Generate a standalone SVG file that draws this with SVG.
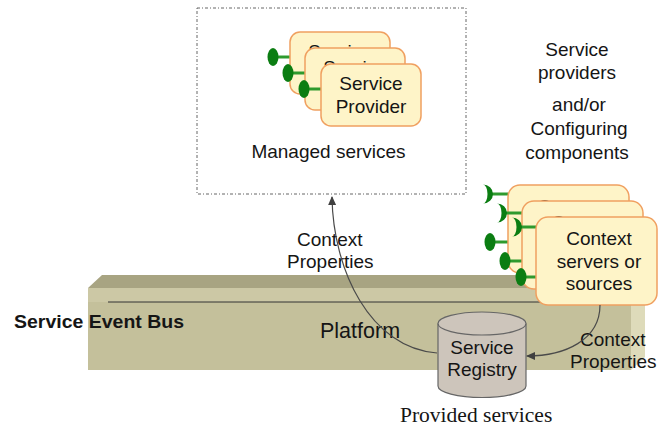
<svg xmlns="http://www.w3.org/2000/svg" width="658" height="430" viewBox="0 0 658 430">
<style>
.t{font-family:"Liberation Sans",Arial,sans-serif;font-size:19px;fill:#151515}
.tc{text-anchor:middle}
.card{fill:#fef4c8;stroke:#f0a060;stroke-width:1.5}
.stem{stroke:#2e9a2e;stroke-width:3}
.lolly{fill:#0b7d12}
.conn{fill:none;stroke:#4a4a4a;stroke-width:1.2}
</style>
<defs>
<marker id="ah" markerWidth="9" markerHeight="8" refX="8" refY="4" orient="auto" markerUnits="userSpaceOnUse">
<path d="M0,0 L9,4 L0,8 z" fill="#404040"/>
</marker>
</defs>
<rect width="658" height="430" fill="#fff"/>

<g id="platform">
<polygon points="88,288 102,275 645,275 631,288" fill="#a8a482"/>
<rect x="88" y="288" width="543" height="14" fill="#ccc8a5"/>
<rect x="88" y="302" width="543" height="68" fill="#c4c09b"/>
<polygon points="631,288 645,275 645,357 631,370" fill="#dedbba"/>
<line x1="108" y1="302" x2="631" y2="302" stroke="#333" stroke-width="1"/>
<text class="t" x="320" y="338" style="font-size:21.5px">Platform</text>
<text class="t" x="14" y="328" style="font-weight:bold;font-size:18px" textLength="170" lengthAdjust="spacingAndGlyphs">Service Event Bus</text>
</g>

<g id="service-registry">
<path d="M438,323.5 L438,386 A44,11.5 0 0 0 526,386 L526,323.5" fill="#cdc5bb" stroke="#666" stroke-width="1.2"/>
<ellipse cx="482" cy="323.5" rx="44" ry="11.5" fill="#cdc5bb" stroke="#666" stroke-width="1.2"/>
<text class="t tc" x="482" y="354">Service</text>
<text class="t tc" x="482" y="376">Registry</text>
</g>

<g id="managed-services">
<rect x="197" y="8" width="269" height="186" fill="none" stroke="#666" stroke-width="1" stroke-dasharray="3,2,1,2"/>
<text class="t tc" x="328.5" y="158">Managed services</text>
</g>

<g id="service-provider-1">
<line class="stem" x1="276" y1="57" x2="290" y2="57"/>
<ellipse class="lolly" cx="273" cy="57" rx="5.5" ry="9"/>
<rect class="card" x="290" y="32" width="100" height="62" rx="10"/>
<text class="t tc" x="340" y="58">Service</text>
</g>
<g id="service-provider-2">
<line class="stem" x1="291" y1="73" x2="305" y2="73"/>
<ellipse class="lolly" cx="288" cy="73" rx="5.5" ry="9"/>
<rect class="card" x="305" y="48" width="100" height="62" rx="10"/>
<text class="t tc" x="355" y="74">Service</text>
</g>
<g id="service-provider-3">
<line class="stem" x1="307" y1="89" x2="321" y2="89"/>
<ellipse class="lolly" cx="304" cy="89" rx="5.5" ry="9"/>
<rect class="card" x="321" y="64" width="100" height="62" rx="10"/>
<text class="t tc" x="371" y="90">Service</text>
<text class="t tc" x="371" y="113">Provider</text>
</g>

<g id="providers-label">
<text class="t tc" x="577" y="56">Service</text>
<text class="t tc" x="577" y="79">providers</text>
<text class="t tc" x="579" y="111">and/or</text>
<text class="t tc" x="579" y="135">Configuring</text>
<text class="t tc" x="577" y="159">components</text>
</g>

<g id="context-server-1">
<line class="stem" x1="492" y1="194" x2="508" y2="194"/>
<path class="lolly" d="M483,184.5 A10,9.5 0 0 1 483,203.5 A4.5,9.5 0 0 0 483,184.5 Z"/>
<line class="stem" x1="494" y1="242" x2="508" y2="242"/>
<ellipse class="lolly" cx="490" cy="242" rx="5.5" ry="9"/>
<rect class="card" x="508" y="185" width="121" height="88" rx="12"/>
<text class="t tc" x="570" y="213">Context</text>
</g>
<g id="context-server-2">
<line class="stem" x1="506" y1="213" x2="522" y2="213"/>
<path class="lolly" d="M497,203.5 A10,9.5 0 0 1 497,222.5 A4.5,9.5 0 0 0 497,203.5 Z"/>
<line class="stem" x1="509" y1="261" x2="522" y2="261"/>
<ellipse class="lolly" cx="505" cy="261" rx="5.5" ry="9"/>
<rect class="card" x="522" y="201" width="121" height="88" rx="12"/>
<text class="t tc" x="584" y="229">Context</text>
</g>
<g id="context-server-3">
<line class="stem" x1="521" y1="227" x2="536" y2="227"/>
<path class="lolly" d="M512,217.5 A10,9.5 0 0 1 512,236.5 A4.5,9.5 0 0 0 512,217.5 Z"/>
<line class="stem" x1="525" y1="277" x2="536" y2="277"/>
<ellipse class="lolly" cx="521" cy="277" rx="5.5" ry="9"/>
<rect class="card" x="536" y="217" width="121" height="88" rx="12"/>
<text class="t tc" x="599" y="245">Context</text>
<text class="t tc" x="599" y="268">servers or</text>
<text class="t tc" x="599" y="290">sources</text>
</g>

<g id="labels">
<text class="t" x="297" y="246">Context</text>
<text class="t" x="287" y="268">Properties</text>
<text class="t" x="580" y="346">Context</text>
<text class="t" x="570" y="368">Properties</text>
<text x="400" y="422" style="font-family:'Liberation Serif','Times New Roman',serif;font-size:21.5px;fill:#151515">Provided services</text>
</g>

<g id="connectors">
<path class="conn" d="M437,353 C370,348 333,270 332,197" marker-end="url(#ah)"/>
<path class="conn" d="M600,305 C600,340 565,356 527,356" marker-end="url(#ah)"/>
</g>
</svg>
